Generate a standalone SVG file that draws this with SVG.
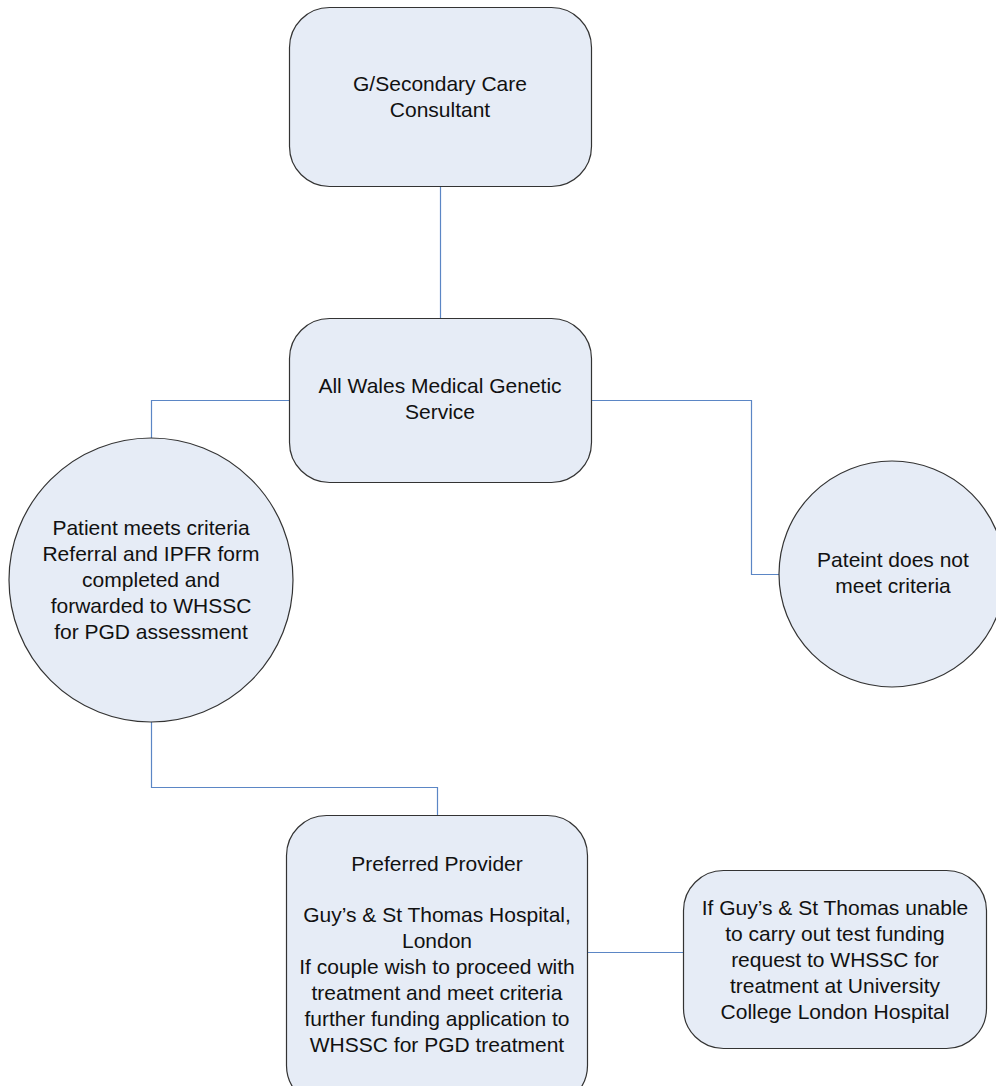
<svg xmlns="http://www.w3.org/2000/svg" width="996" height="1086" viewBox="0 0 996 1086">
<style>
.node{fill:#e6ecf6;stroke:#333;stroke-width:1.2}
.conn{fill:none;stroke:#5b86c5;stroke-width:1.2}
text{font-family:"Liberation Sans",Arial,sans-serif;font-size:21px;fill:#111;text-anchor:middle}
</style>
<rect width="996" height="1086" fill="#fff"/>
<g id="connectors">
<path class="conn" d="M440.5 187V318"/>
<path class="conn" d="M289 400.5H151.5V438"/>
<path class="conn" d="M592 400.5H751.5V574.5H779"/>
<path class="conn" d="M151.5 722V787.5H437.5V815"/>
<path class="conn" d="M587 952.5H683"/>
</g>
<g id="node-gp">
<rect class="node" x="289.5" y="7.5" width="302" height="179" rx="40"/>
<text x="440" y="91">G/Secondary Care</text>
<text x="440" y="117">Consultant</text>
</g>
<g id="node-awmgs">
<rect class="node" x="289.5" y="318.5" width="302" height="164" rx="40"/>
<text x="440" y="393">All Wales Medical Genetic</text>
<text x="440" y="419">Service</text>
</g>
<g id="node-meets">
<circle class="node" cx="151" cy="580" r="142"/>
<text x="151" y="535">Patient meets criteria</text>
<text x="151" y="561">Referral and IPFR form</text>
<text x="151" y="587">completed and</text>
<text x="151" y="613">forwarded to WHSSC</text>
<text x="151" y="639">for PGD assessment</text>
</g>
<g id="node-notmeet">
<circle class="node" cx="892" cy="574" r="113"/>
<text x="893" y="567">Pateint does not</text>
<text x="893" y="593">meet criteria</text>
</g>
<g id="node-provider">
<rect class="node" x="286.5" y="815.5" width="301" height="290" rx="40"/>
<text x="437" y="871">Preferred Provider</text>
<text x="437" y="922">Guy’s &amp; St Thomas Hospital,</text>
<text x="437" y="948">London</text>
<text x="437" y="974">If couple wish to proceed with</text>
<text x="437" y="1000">treatment and meet criteria</text>
<text x="437" y="1026">further funding application to</text>
<text x="437" y="1052">WHSSC for PGD treatment</text>
</g>
<g id="node-ucl">
<rect class="node" x="683.5" y="870.5" width="303" height="178" rx="40"/>
<text x="835" y="915">If Guy’s &amp; St Thomas unable</text>
<text x="835" y="941">to carry out test funding</text>
<text x="835" y="967">request to WHSSC for</text>
<text x="835" y="993">treatment at University</text>
<text x="835" y="1019">College London Hospital</text>
</g>
</svg>
